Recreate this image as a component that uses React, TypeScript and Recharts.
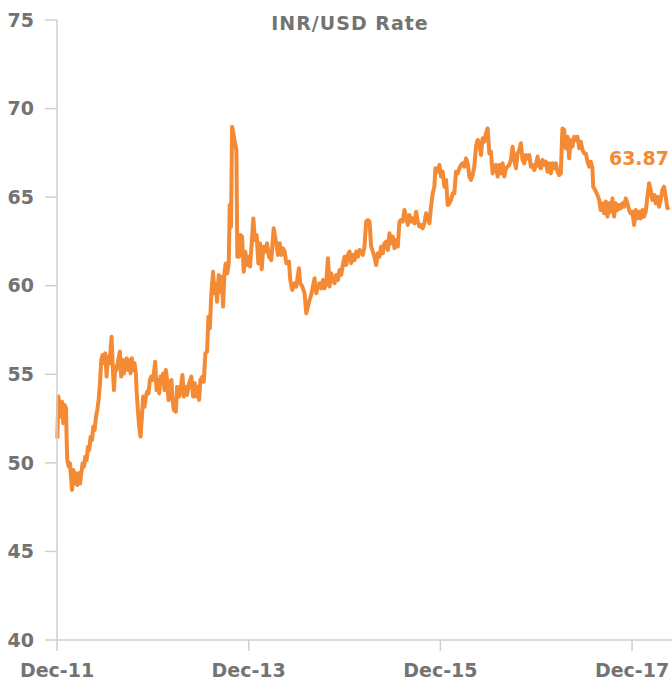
import React from 'react';
import { LineChart, Line, XAxis, YAxis, LabelList } from 'recharts';

// months since Dec-2011
const months = [
  0.04, 0.17, 0.38, 0.5, 0.63, 0.79, 0.96, 1.13, 1.21, 1.29, 1.46, 1.63, 1.75, 1.88, 2.04, 2.21, 2.38, 2.54, 2.71, 2.88,
  3.04, 3.21, 3.38, 3.54, 3.71, 3.88, 4.04, 4.21, 4.38, 4.54, 4.71, 4.88, 5.04, 5.21, 5.38, 5.54, 5.71, 5.88, 6.04, 6.21,
  6.38, 6.54, 6.71, 6.83, 6.96, 7.13, 7.29, 7.46, 7.67, 7.88, 8.04, 8.21, 8.38, 8.54, 8.71, 8.88, 9.04, 9.21, 9.38, 9.54,
  9.71, 9.88, 9.96, 10.13, 10.29, 10.46, 10.63, 10.79, 10.96, 11.13, 11.29, 11.46, 11.63, 11.79, 11.96, 12.13, 12.29, 12.46, 12.63, 12.79,
  12.96, 13.13, 13.29, 13.46, 13.63, 13.79, 13.96, 14.13,
  14.33, 14.46, 14.63, 14.88, 15.04, 15.29, 15.46, 15.71, 15.88, 16.13, 16.29, 16.54, 16.83, 17.04, 17.25, 17.46, 17.67, 17.79, 17.96, 18.21,
  18.38, 18.58, 18.79, 18.96, 19.13, 19.33, 19.54, 19.71, 19.88, 20.04, 20.25, 20.46, 20.63, 20.79, 20.96, 21.13, 21.33, 21.5, 21.63, 21.79,
  21.92, 22.08, 22.25, 22.46, 22.58, 22.79, 22.96, 23.17, 23.38, 23.58, 23.79, 23.96, 24.17, 24.38, 24.58, 24.79, 25.0, 25.21, 25.42, 25.63,
  25.83, 26.04, 26.29, 26.54,
  26.83, 27.13, 27.38, 27.67, 27.88, 28.08, 28.29, 28.5, 28.71, 29.04, 29.21, 29.46, 29.75, 29.96, 30.29, 30.46, 30.71, 31.0, 31.21, 31.42,
  31.63, 31.83, 32.04, 32.25, 32.46, 32.67, 32.88, 33.08, 33.29, 33.5, 33.71, 33.92, 34.13, 34.33, 34.54, 34.75, 34.96, 35.17, 35.38, 35.58,
  35.79, 36.0, 36.21, 36.42, 36.63, 36.83, 37.04, 37.25, 37.46, 37.67, 37.88, 38.08, 38.29, 38.5, 38.71, 38.92, 39.13, 39.33, 39.54, 39.75,
  39.96, 40.17, 40.38, 40.58, 40.79, 41.0, 41.21, 41.42, 41.63, 41.83, 42.04, 42.25, 42.46, 42.67, 42.88, 43.08, 43.29, 43.5, 43.71, 43.92,
  44.13, 44.33, 44.54, 44.75, 44.96, 45.17, 45.38, 45.58, 45.79, 46.0, 46.21, 46.42, 46.63,
  46.83, 47.04, 47.25, 47.38, 47.67, 47.88, 48.08, 48.29, 48.5, 48.71, 48.92, 49.13, 49.33, 49.54, 49.75, 49.96, 50.17, 50.38, 50.58, 50.79,
  51.0, 51.21, 51.42, 51.63, 51.83, 52.04, 52.25, 52.46, 52.67, 52.88, 53.08, 53.29, 53.5, 53.71, 53.92, 54.13, 54.33, 54.54, 54.75, 54.96,
  55.17, 55.38, 55.58, 55.79, 56.0, 56.21, 56.42, 56.63, 56.83, 57.04, 57.25, 57.46, 57.67, 57.88, 58.08, 58.29, 58.5, 58.71, 58.92, 59.13,
  59.33, 59.54, 59.75, 59.96, 60.17, 60.38, 60.58, 60.79, 61.0, 61.21, 61.42, 61.63,
  61.83, 62.04, 62.25, 62.46, 62.67, 62.88, 63.08, 63.21, 63.29, 63.5, 63.71, 63.92, 64.13, 64.33, 64.54, 64.75, 64.96, 65.17, 65.38, 65.58,
  65.79, 66.0, 66.21, 66.42, 66.63, 66.83, 67.04, 67.13, 67.38, 67.67, 67.88, 68.08, 68.29, 68.5, 68.71, 68.92, 69.13, 69.33, 69.54, 69.75,
  69.96, 70.17, 70.38, 70.58, 70.79, 71.0, 71.21, 71.42, 71.63, 71.83, 72.04, 72.25, 72.46, 72.67, 72.88, 73.08, 73.29, 73.5, 73.71, 73.92,
  74.13, 74.33, 74.54, 74.75, 74.96, 75.17, 75.38, 75.58, 75.79, 76.0, 76.21, 76.42, 76.63,
];

// INR per USD
const rates = [
  51.38, 53.74, 53.17, 52.6, 53.45, 52.23, 53.27, 53.08, 51.29, 50.16, 49.8, 49.97, 49.22, 48.47, 49.6, 48.84, 49.41, 48.75, 49.41, 48.84,
  49.41, 49.97, 49.79, 50.35, 50.16, 50.91, 50.73, 51.48, 51.29, 52.04, 51.85, 52.61, 52.98, 53.55, 54.49, 55.81, 56.09, 55.62, 56.18, 54.87,
  55.99, 55.62, 56.37, 57.12, 55.62, 54.11, 55.43, 55.24, 55.81, 56.28, 54.87, 55.81, 55.05, 55.62, 55.9, 55.24, 55.81, 55.05, 55.9, 55.24,
  55.62, 55.05, 54.11, 52.98, 52.04, 51.48, 52.61, 53.74, 53.17, 53.74, 54.02, 53.92, 54.68, 54.87, 54.68, 55.05, 55.71, 54.11, 54.68, 53.92,
  54.87, 54.49, 55.05, 54.11, 55.24, 54.68, 53.55, 54.3,
  54.68, 53.55, 52.99, 52.89, 54.3, 53.74, 54.11, 54.96, 53.74, 54.3, 53.83, 54.49, 54.87, 53.74, 54.49, 53.74, 54.3, 53.55, 54.68, 54.87,
  54.58, 56.18, 56.28, 58.25, 57.59, 59.57, 60.79, 59.57, 60.13, 59.1, 60.6, 59.66, 60.51, 58.82, 60.7, 61.26, 60.7, 61.26, 64.56, 63.33,
  68.98, 68.6, 68.13, 67.66, 61.64, 61.64, 62.86, 62.77, 60.79, 61.92, 61.17, 61.64, 61.08, 62.39, 63.8, 62.58, 62.86, 61.26, 62.39, 60.93,
  62.2, 61.92, 62.39, 61.64,
  61.45, 63.24, 62.58, 61.74, 62.4, 61.74, 62.11, 61.93, 61.27, 61.36, 60.32, 59.76, 60.14, 59.95, 60.98, 60.14, 59.95, 59.57, 58.44, 58.82,
  59.2, 59.48, 59.95, 60.42, 59.57, 59.95, 60.14, 59.85, 60.32, 59.85, 60.14, 61.55, 59.95, 60.7, 60.32, 60.14, 60.61, 60.32, 60.89, 60.61,
  61.17, 61.64, 61.17, 61.74, 61.93, 61.27, 61.74, 61.45, 61.93, 61.64, 62.02, 61.93, 61.74, 62.21, 63.62, 63.71, 63.62, 62.21, 61.93, 61.64,
  61.17, 61.83, 61.64, 62.21, 61.83, 62.39, 62.49, 62.02, 62.96, 62.39, 62.77, 62.11, 62.58, 62.21, 63.62, 63.71, 63.62, 64.28, 63.9, 63.43,
  63.99, 63.62, 63.81, 63.52, 64.18, 63.62, 63.34, 63.43, 63.24, 63.52, 64.09, 63.9, 63.52,
  64.46, 65.22, 65.59, 66.63, 66.44, 66.82, 66.16, 66.44, 65.59, 65.97, 64.56, 64.65, 64.84, 65.22, 65.22, 66.44, 66.34, 66.63, 66.82, 66.91,
  66.72, 67.19, 66.91, 66.16, 65.97, 66.25, 66.72, 67.85, 68.23, 68.04, 67.38, 68.32, 68.13, 68.6, 68.88, 67.47, 67.57, 66.34, 66.72, 66.82,
  66.16, 66.82, 66.34, 66.91, 66.16, 66.63, 66.72, 66.82, 67.1, 67.85, 67.1, 66.63, 67.47, 67.66, 68.04, 67.1, 66.91, 67.38, 67.19, 67.38,
  66.72, 66.82, 66.53, 66.82, 67.29, 66.72, 66.63, 67.1, 66.82, 67.0, 66.44, 66.91,
  66.34, 66.91, 66.63, 66.91, 66.44, 66.25, 66.34, 68.04, 68.88, 68.79, 67.76, 68.41, 67.19, 68.23, 67.85, 68.41, 68.23, 68.41, 67.76, 68.13,
  67.66, 67.47, 67.47, 67.0, 66.72, 67.0, 66.63, 65.59, 65.4, 65.12, 64.84, 64.27, 64.65, 64.09, 64.75, 63.9, 64.65, 64.18, 64.93, 63.9,
  64.65, 64.27, 64.56, 64.37, 64.65, 64.46, 64.93, 64.65, 64.27, 64.09, 64.18, 63.43, 64.27, 63.8, 64.18, 63.8, 64.27, 63.9, 64.18, 65.03,
  65.78, 65.4, 64.84, 65.12, 64.65, 65.03, 64.46, 64.84, 65.4, 65.59, 65.03, 64.37, 64.46,
];

const xTickMonths = [0, 24, 48, 72];
const xTickLabels = ['Dec-11', 'Dec-13', 'Dec-15', 'Dec-17'];
const yTicks = [40, 45, 50, 55, 60, 65, 70, 75];
const titleText = 'INR/USD Rate';
const lastLabel = '63.87';

const data = months.map((m, i) => ({ m, rate: rates[i] }));

const ORANGE = '#F58A35';
const GRAY = '#737373';
const AXIS = '#cfcfcf';
const FONT = '"DejaVu Sans", Verdana, sans-serif';

const W = 672;
const H = 687;

const renderLast = (props: any) => {
  const { x, y, index } = props;
  if (index !== data.length - 1) return null;
  return (
    <text
      x={x}
      y={y - 42}
      textAnchor="end"
      fill={ORANGE}
      fontSize={19}
      fontWeight="bold"
      fontFamily={FONT}
    >
      {lastLabel}
    </text>
  );
};

export default function App() {
  return (
    <div style={{ position: 'relative', width: W, height: H }}>
      <style>{'html,body{margin:0;padding:0;overflow:hidden;}'}</style>
      <LineChart width={W} height={H} data={data} margin={{ top: 20, right: 0, bottom: 0, left: 0 }}>
        <XAxis
          dataKey="m"
          type="number"
          domain={[0, 77]}
          ticks={xTickMonths}
          tickFormatter={(v: number) => xTickLabels[xTickMonths.indexOf(v)] ?? ''}
          height={47}
          tickSize={11}
          tickMargin={13}
          axisLine={{ stroke: AXIS, strokeWidth: 1.5 }}
          tickLine={{ stroke: AXIS, strokeWidth: 1.5 }}
          tick={{ fill: GRAY, fontSize: 19, fontWeight: 'bold', fontFamily: FONT }}
          interval={0}
        />
        <YAxis
          type="number"
          domain={[40, 75]}
          ticks={yTicks}
          width={57}
          tickSize={12}
          tickMargin={11}
          axisLine={{ stroke: AXIS, strokeWidth: 1.5 }}
          tickLine={{ stroke: AXIS, strokeWidth: 1.5 }}
          tick={{ fill: GRAY, fontSize: 19, fontWeight: 'bold', fontFamily: FONT }}
          interval={0}
        />
        <Line
          type="linear"
          dataKey="rate"
          stroke={ORANGE}
          strokeWidth={4}
          dot={false}
          activeDot={false}
          isAnimationActive={false}
          strokeLinejoin="round"
        >
          <LabelList dataKey="rate" content={renderLast} />
        </Line>
      </LineChart>
      <svg
        width={W}
        height={H}
        style={{ position: 'absolute', left: 0, top: 0, pointerEvents: 'none' }}
      >
        <text
          x={350}
          y={30}
          textAnchor="middle"
          fill={GRAY}
          fontSize={19}
          fontWeight="bold"
          fontFamily={FONT}
          letterSpacing={1}
        >
          {titleText}
        </text>
      </svg>
    </div>
  );
}
